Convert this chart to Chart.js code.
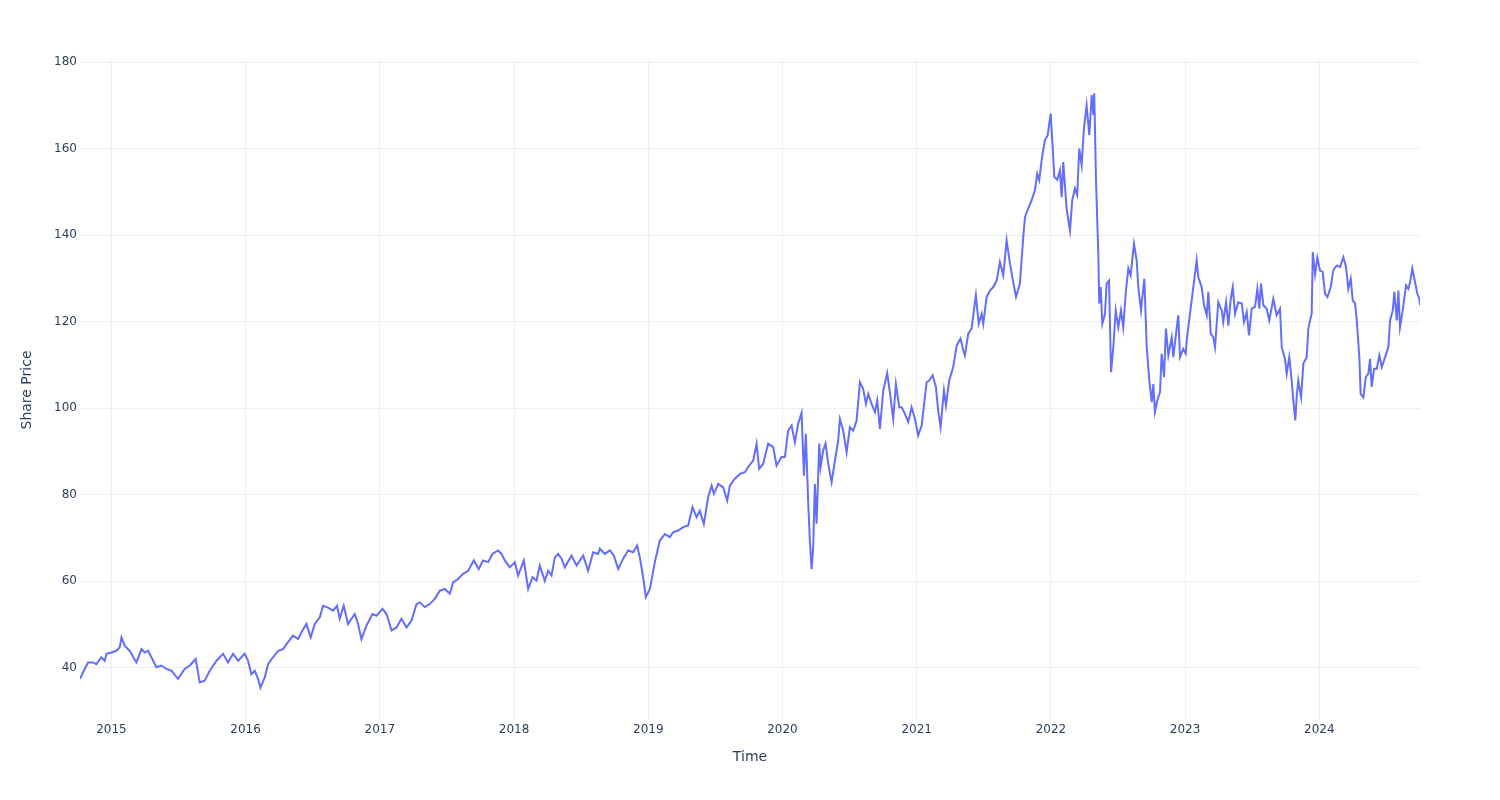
<!DOCTYPE html>
<html>
<head>
<meta charset="utf-8">
<script src="https://cdn.jsdelivr.net/npm/chart.js@4.4.1/dist/chart.umd.min.js"></script>
<style>
  html, body { margin: 0; padding: 0; background: #fff; }
</style>
</head>
<body>
<canvas id="myChart" width="1500" height="800"></canvas>
<script>
// time in decimal years
var timeValues = [
  2014.766, 2014.788, 2014.826, 2014.863, 2014.888, 2014.925, 2014.950, 2014.963,
  2015.000, 2015.037, 2015.062, 2015.075, 2015.099, 2015.136, 2015.186, 2015.224, 2015.248, 2015.273, 2015.298, 2015.335, 2015.373, 2015.410, 2015.447, 2015.496, 2015.546, 2015.584, 2015.628, 2015.645, 2015.658, 2015.695, 2015.733, 2015.783, 2015.832, 2015.869, 2015.906, 2015.944, 2015.993,
  2016.018, 2016.043, 2016.068, 2016.093, 2016.110, 2016.143, 2016.167, 2016.204, 2016.242, 2016.279, 2016.316, 2016.353, 2016.391, 2016.416, 2016.453, 2016.485, 2016.515, 2016.552, 2016.577, 2016.614, 2016.652, 2016.681, 2016.701, 2016.731, 2016.763, 2016.813, 2016.838, 2016.863, 2016.900, 2016.945, 2016.975,
  2017.020, 2017.050, 2017.087, 2017.124, 2017.161, 2017.199, 2017.236, 2017.273, 2017.298, 2017.335, 2017.372, 2017.409, 2017.447, 2017.484, 2017.521, 2017.546, 2017.583, 2017.620, 2017.658, 2017.700, 2017.737, 2017.769, 2017.807, 2017.839, 2017.881, 2017.907, 2017.931, 2017.968,
  2018.006, 2018.030, 2018.073, 2018.105, 2018.138, 2018.167, 2018.192, 2018.229, 2018.254, 2018.279, 2018.304, 2018.328, 2018.354, 2018.378, 2018.428, 2018.466, 2018.515, 2018.552, 2018.589, 2018.627, 2018.639, 2018.676, 2018.714, 2018.744, 2018.776, 2018.813, 2018.850, 2018.887, 2018.917, 2018.937, 2018.962, 2018.982,
  2019.012, 2019.049, 2019.086, 2019.124, 2019.161, 2019.185, 2019.223, 2019.260, 2019.297, 2019.330, 2019.360, 2019.384, 2019.414, 2019.446, 2019.472, 2019.489, 2019.521, 2019.558, 2019.588, 2019.608, 2019.645, 2019.683, 2019.720, 2019.744, 2019.782, 2019.807, 2019.826, 2019.856, 2019.893, 2019.931, 2019.956, 2019.993,
  2020.018, 2020.042, 2020.068, 2020.092, 2020.117, 2020.142, 2020.160, 2020.174, 2020.192, 2020.204, 2020.217, 2020.229, 2020.241, 2020.254, 2020.274, 2020.284, 2020.303, 2020.321, 2020.341, 2020.366, 2020.391, 2020.415, 2020.428, 2020.452, 2020.478, 2020.502, 2020.527, 2020.552, 2020.577, 2020.601, 2020.622, 2020.639, 2020.664, 2020.689, 2020.706, 2020.726, 2020.751, 2020.780, 2020.800, 2020.825, 2020.845, 2020.870, 2020.888, 2020.912, 2020.937, 2020.962, 2020.987,
  2021.011, 2021.037, 2021.074, 2021.093, 2021.119, 2021.143, 2021.160, 2021.178, 2021.203, 2021.218, 2021.242, 2021.272, 2021.298, 2021.327, 2021.347, 2021.359, 2021.384, 2021.409, 2021.426, 2021.441, 2021.462, 2021.484, 2021.496, 2021.521, 2021.546, 2021.570, 2021.596, 2021.620, 2021.645, 2021.670, 2021.695, 2021.715, 2021.740, 2021.769, 2021.794, 2021.807, 2021.831, 2021.857, 2021.881, 2021.898, 2021.913, 2021.931, 2021.943, 2021.956, 2021.976, 2021.998,
  2022.013, 2022.025, 2022.047, 2022.067, 2022.080, 2022.092, 2022.117, 2022.142, 2022.159, 2022.179, 2022.196, 2022.211, 2022.229, 2022.246, 2022.266, 2022.286, 2022.304, 2022.316, 2022.323, 2022.336, 2022.353, 2022.360, 2022.371, 2022.383, 2022.403, 2022.415, 2022.433, 2022.448, 2022.465, 2022.483, 2022.502, 2022.522, 2022.539, 2022.559, 2022.577, 2022.594, 2022.619, 2022.639, 2022.651, 2022.671, 2022.696, 2022.714, 2022.733, 2022.751, 2022.763, 2022.775, 2022.793, 2022.813, 2022.825, 2022.843, 2022.857, 2022.875, 2022.900, 2022.912, 2022.932, 2022.949, 2022.962, 2022.986,
  2023.004, 2023.016, 2023.036, 2023.061, 2023.086, 2023.098, 2023.123, 2023.141, 2023.161, 2023.173, 2023.191, 2023.210, 2023.223, 2023.247, 2023.273, 2023.284, 2023.305, 2023.322, 2023.340, 2023.355, 2023.372, 2023.396, 2023.422, 2023.439, 2023.459, 2023.476, 2023.496, 2023.521, 2023.538, 2023.553, 2023.565, 2023.583, 2023.608, 2023.627, 2023.657, 2023.682, 2023.707, 2023.720, 2023.744, 2023.757, 2023.776, 2023.794, 2023.806, 2023.821, 2023.831, 2023.843, 2023.864, 2023.881, 2023.906, 2023.918, 2023.931, 2023.943, 2023.951, 2023.968, 2023.985,
  2024.005, 2024.025, 2024.042, 2024.060, 2024.085, 2024.104, 2024.130, 2024.154, 2024.179, 2024.199, 2024.216, 2024.234, 2024.249, 2024.266, 2024.279, 2024.298, 2024.308, 2024.328, 2024.346, 2024.365, 2024.378, 2024.390, 2024.408, 2024.428, 2024.447, 2024.465, 2024.490, 2024.514, 2024.527, 2024.547, 2024.559, 2024.577, 2024.589, 2024.601, 2024.621, 2024.646, 2024.663, 2024.676, 2024.693, 2024.713, 2024.730, 2024.745, 2024.750
];

var priceValues = [
  37.4, 38.9, 41.2, 41.2, 40.8, 42.4, 41.6, 43.2,
  43.5, 43.9, 44.7, 47.0, 45.1, 43.9, 41.2, 44.3, 43.5, 43.9, 42.4, 40.1, 40.5, 39.7, 39.3, 37.4, 39.7, 40.5, 42.0, 38.9, 36.6, 37.0, 39.3, 41.6, 43.2, 41.2, 43.2, 41.6, 43.2,
  41.6, 38.5, 39.3, 37.4, 35.4, 37.8, 40.8, 42.4, 43.9, 44.3, 45.9, 47.4, 46.6, 48.2, 50.1, 47.0, 50.1, 51.6, 54.3, 53.9, 53.2, 54.3, 51.3, 54.3, 50.1, 52.4, 50.1, 46.6, 49.7, 52.4, 52.0,
  53.6, 52.4, 48.6, 49.3, 51.3, 49.3, 50.9, 54.7, 55.1, 54.0, 54.7, 55.9, 57.8, 58.2, 57.1, 59.7, 60.5, 61.7, 62.4, 64.8, 62.8, 64.8, 64.4, 66.3, 67.1, 66.3, 64.8, 63.2,
  64.4, 61.3, 64.8, 58.2, 60.9, 60.1, 63.6, 60.1, 62.4, 61.3, 65.5, 66.3, 65.2, 63.2, 65.9, 63.6, 65.9, 62.4, 66.7, 66.3, 67.5, 66.3, 67.1, 65.9, 62.8, 65.2, 67.1, 66.7, 68.2, 65.5, 60.9, 56.3,
  58.2, 64.4, 69.4, 70.9, 70.2, 71.3, 71.7, 72.5, 72.9, 77.1, 74.8, 76.3, 73.2, 79.4, 82.1, 80.2, 82.5, 81.7, 78.6, 82.1, 83.7, 84.8, 85.2, 86.4, 87.9, 91.8, 86.0, 87.1, 91.8, 91.0, 86.7, 88.7,
  88.7, 94.8, 96.0, 92.1, 96.4, 98.9, 84.4, 94.1, 77.9, 69.4, 62.8, 67.8, 82.5, 73.3, 91.8, 86.4, 90.2, 91.8, 87.1, 82.9, 87.9, 92.5, 97.5, 94.8, 89.8, 95.6, 94.8, 97.1, 106.0, 104.5, 101.0, 103.3, 101.0, 99.1, 101.8, 95.2, 104.1, 108.1, 103.7, 97.5, 105.6, 100.2, 100.2, 98.7, 96.8, 100.2, 97.5,
  93.7, 96.0, 106.0, 106.4, 107.6, 104.9, 99.5, 95.6, 104.1, 100.6, 106.4, 109.5, 114.5, 116.1, 113.4, 112.2, 117.2, 118.4, 122.6, 126.1, 119.5, 121.8, 119.5, 125.7, 127.2, 128.0, 129.5, 133.8, 130.7, 138.8, 133.4, 129.9, 125.7, 128.8, 139.6, 144.2, 146.2, 148.1, 150.4, 154.2, 152.7, 157.3, 159.7, 162.0, 163.1, 168.1,
  160.4, 153.5, 152.8, 155.0, 148.8, 156.9, 146.1, 141.1, 148.1, 150.8, 149.3, 160.0, 156.2, 164.7, 170.0, 163.1, 172.4, 167.8, 172.8, 152.7, 135.7, 124.2, 128.0, 119.5, 121.8, 128.8, 129.5, 108.3, 114.1, 122.6, 118.7, 122.6, 118.7, 127.2, 132.3, 130.7, 138.0, 134.2, 128.0, 122.6, 129.9, 114.1, 106.4, 101.4, 105.6, 99.1, 101.8, 103.7, 112.6, 107.2, 118.4, 112.2, 116.4, 111.8, 117.2, 121.5, 111.8, 113.7,
  112.6, 116.8, 121.8, 128.0, 134.2, 130.3, 128.0, 123.8, 121.5, 126.9, 117.2, 116.4, 114.1, 124.5, 122.6, 119.9, 124.5, 119.1, 125.3, 128.0, 121.8, 124.5, 124.2, 119.9, 122.2, 116.8, 123.0, 123.4, 127.6, 123.0, 128.8, 123.8, 123.0, 120.3, 125.3, 121.5, 123.0, 114.1, 111.4, 108.0, 111.8, 106.4, 101.8, 97.2, 102.5, 106.4, 102.5, 110.3, 111.8, 118.4, 120.3, 121.8, 136.1, 130.9, 134.8,
  131.8, 131.5, 126.5, 125.7, 128.0, 131.9, 133.0, 132.6, 134.9, 132.6, 127.6, 129.9, 124.9, 124.2, 120.3, 111.8, 103.3, 102.5, 107.2, 108.0, 111.4, 104.9, 109.1, 109.1, 112.2, 109.5, 111.8, 114.1, 120.3, 122.6, 126.9, 120.3, 127.2, 118.7, 122.6, 128.4, 127.6, 129.1, 132.3, 129.1, 126.5, 125.3, 123.8
];

var yearTicks = [2015, 2016, 2017, 2018, 2019, 2020, 2021, 2022, 2023, 2024];
var priceTicks = [40, 60, 80, 100, 120, 140, 160, 180];

var points = timeValues.map(function (t, i) {
  return { x: t, y: priceValues[i] };
});

Chart.defaults.font.family = "DejaVu Sans";
Chart.defaults.font.size = 12;
Chart.defaults.color = "#2a3f5f";

new Chart("myChart", {
  type: "line",
  data: {
    datasets: [{
      data: points,
      borderColor: "#636efa",
      borderWidth: 2,
      pointRadius: 0,
      tension: 0,
      fill: false
    }]
  },
  options: {
    responsive: false,
    animation: false,
    layout: { padding: { left: 0, right: 80, top: 60, bottom: 0 } },
    plugins: { legend: { display: false }, tooltip: { enabled: false } },
    scales: {
      x: {
        type: "linear",
        min: timeValues[0],
        max: timeValues[timeValues.length - 1],
        afterBuildTicks: function (scale) {
          scale.ticks = yearTicks.map(function (v) { return { value: v }; });
        },
        afterFit: function (scale) { scale.height = 80; },
        ticks: {
          padding: 3,
          maxRotation: 0,
          callback: function (v) { return String(v); }
        },
        grid: { color: "#ebf0f8", drawTicks: false },
        border: { display: false },
        title: {
          display: true,
          text: "Time",
          font: { size: 14 },
          padding: { top: 0, bottom: 34 }
        }
      },
      y: {
        min: 27.9,
        max: 180.5,
        afterBuildTicks: function (scale) {
          scale.ticks = priceTicks.map(function (v) { return { value: v }; });
        },
        afterFit: function (scale) { scale.width = 80; },
        ticks: {
          padding: 3,
          callback: function (v) { return String(v); }
        },
        grid: { color: "#ebf0f8", drawTicks: false },
        border: { display: false },
        title: {
          display: true,
          text: "Share Price",
          font: { size: 14 },
          padding: { top: 19, bottom: 0 }
        }
      }
    }
  }
});
</script>
</body>
</html>
